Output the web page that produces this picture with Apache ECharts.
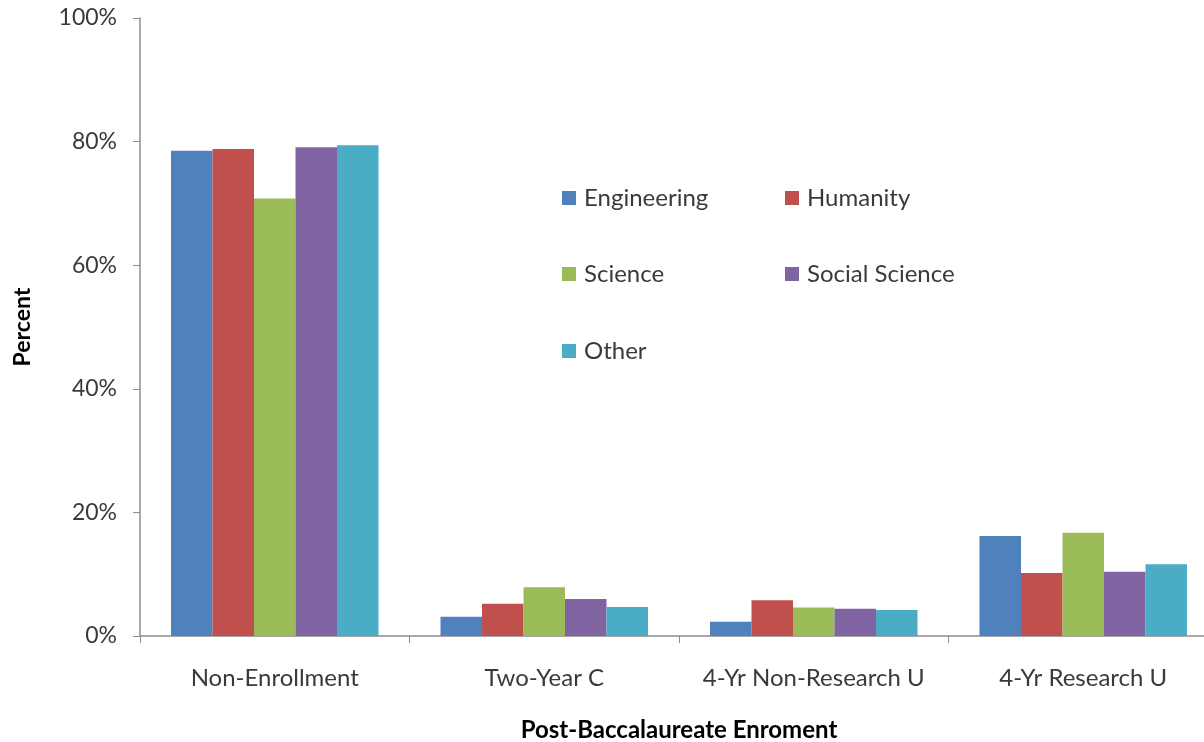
<!DOCTYPE html>
<html>
<head>
<meta charset="utf-8">
<script src="https://cdn.jsdelivr.net/npm/echarts@6/dist/echarts.min.js"></script>
<style>html,body{margin:0;padding:0;background:#fff}#c{width:1204px;height:742px}</style>
</head>
<body>
<div id="c"></div>
<script>
const categories = ['Non-Enrollment', 'Two-Year C', '4-Yr Non-Research U', '4-Yr Research U'];
const seriesNames = ['Engineering', 'Humanity', 'Science', 'Social Science', 'Other'];
const engineering = [78.5, 3.1, 2.3, 16.2];
const humanity = [78.8, 5.2, 5.8, 10.2];
const science = [70.8, 7.9, 4.6, 16.7];
const socialScience = [79.1, 6.0, 4.4, 10.4];
const other = [79.4, 4.7, 4.2, 11.6];
const yTicks = [0, 20, 40, 60, 80, 100];
const colors = ['#4F81BD', '#C0504D', '#9BBB59', '#8064A2', '#4BACC6'];

const values = [engineering, humanity, science, socialScience, other];
const font = 'Lato';
const legendPos = [[562, 186], [785, 186], [562, 262], [785, 262], [562, 339]];

const chart = echarts.init(document.getElementById('c'), null, {renderer: 'canvas'});
chart.setOption({
  animation: false,
  color: colors,
  textStyle: {fontFamily: font},
  grid: {left: 140, top: 18, width: 1078, height: 618, containLabel: false, outerBoundsMode: 'none'},
  legend: seriesNames.map((n, i) => ({
    data: [n], left: legendPos[i][0], top: legendPos[i][1], padding: 0,
    itemWidth: 14, itemHeight: 14, icon: 'rect',
    textStyle: {fontFamily: font, fontSize: 24, color: '#3a3a3a', lineHeight: 24, padding: [0, 0, 0, 3]}
  })),
  xAxis: {
    type: 'category', data: categories,
    name: 'Post-Baccalaureate Enroment', nameLocation: 'middle', nameGap: 82,
    nameTextStyle: {fontFamily: font, fontSize: 24, fontWeight: 'bold', color: '#000'},
    axisLine: {lineStyle: {color: '#8c8c8c', width: 1.5}},
    axisTick: {show: true, length: 7, lineStyle: {color: '#8c8c8c'}},
    axisLabel: {fontFamily: font, fontSize: 24, color: '#3a3a3a', margin: 30, interval: 0}
  },
  yAxis: {
    type: 'value', min: yTicks[0], max: yTicks[yTicks.length - 1], interval: 20,
    name: 'Percent', nameLocation: 'middle', nameGap: 106, nameRotate: 90,
    nameTextStyle: {fontFamily: font, fontSize: 23, fontWeight: 'bold', color: '#000'},
    axisLine: {show: true, lineStyle: {color: '#8c8c8c', width: 1.5}},
    axisTick: {show: true, length: 7, lineStyle: {color: '#8c8c8c'}},
    splitLine: {show: false},
    axisLabel: {fontFamily: font, fontSize: 23, color: '#3a3a3a', margin: 23, formatter: v => v + '%'}
  },
  series: seriesNames.map((n, i) => ({
    name: n, type: 'bar', data: values[i],
    barGap: '0%', barCategoryGap: '23%',
    itemStyle: {color: colors[i]}
  }))
});
</script>
</body>
</html>
